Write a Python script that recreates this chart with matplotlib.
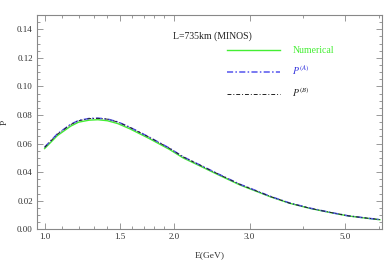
import matplotlib
matplotlib.use("Agg")
import matplotlib.pyplot as plt
from matplotlib.ticker import FixedLocator, FixedFormatter, NullFormatter

plt.rcParams['font.family'] = ['Liberation Serif', 'DejaVu Serif']
plt.rcParams['mathtext.fontset'] = 'stix'

energy = [1.00, 1.07, 1.15, 1.20, 1.27, 1.33, 1.40, 1.48, 1.58, 1.75, 1.95, 2.10,
          2.30, 2.55, 2.85, 3.17, 3.35, 3.72, 4.15, 4.61, 5.10, 5.60, 6.03]
p_numerical = [0.0565, 0.0655, 0.0722, 0.0750, 0.0764, 0.0767, 0.0760, 0.0740, 0.0703,
               0.0636, 0.0560, 0.0500, 0.0443, 0.0378, 0.0310, 0.0256, 0.0228, 0.0182,
               0.0146, 0.0118, 0.0093, 0.0078, 0.0067]
p_a = [0.0575, 0.0667, 0.0735, 0.0762, 0.0776, 0.0778, 0.0772, 0.0752, 0.0714,
       0.0646, 0.0569, 0.0508, 0.0450, 0.0384, 0.0315, 0.0260, 0.0231, 0.0184,
       0.0148, 0.0119, 0.0094, 0.0079, 0.0068]
p_b = [0.0573, 0.0665, 0.0733, 0.0760, 0.0775, 0.0777, 0.0771, 0.0751, 0.0713,
       0.0645, 0.0568, 0.0507, 0.0449, 0.0383, 0.0314, 0.0259, 0.0230, 0.0183,
       0.0147, 0.0119, 0.0094, 0.0079, 0.0068]

x_major = [1.0, 1.5, 2.0, 3.0, 5.0]
x_major_labels = ["1.0", "1.5", "2.0", "3.0", "5.0"]
x_minor = [1.1, 1.2, 1.3, 1.4, 1.6, 1.7, 1.8, 1.9, 4.0, 6.0]
y_major = [0.00, 0.02, 0.04, 0.06, 0.08, 0.10, 0.12, 0.14]
y_major_labels = ["0.00", "0.02", "0.04", "0.06", "0.08", "0.10", "0.12", "0.14"]

fig = plt.figure(figsize=(3.87, 2.62), dpi=100)
ax = fig.add_axes([0.0956, 0.1248, 0.8915, 0.8179])

ax.plot(energy, p_numerical, color='#44ee33', lw=1.0, ls='-', label='Numerical')
ax.plot(energy, p_a, color='#5555ee', lw=1.1, ls=(0, (4, 1.5, 1, 1.5)), label=r'$P^{(A)}$')
ax.plot(energy, p_b, color='#222222', lw=0.7, ls=(0, (4, 2, 1, 2)), label=r'$P^{(B)}$')

ax.set_xscale('log')
ax.set_xlim(0.96, 6.1)
ax.set_ylim(0, 0.15)

ax.xaxis.set_major_locator(FixedLocator(x_major))
ax.xaxis.set_major_formatter(FixedFormatter(x_major_labels))
ax.xaxis.set_minor_locator(FixedLocator(x_minor))
ax.xaxis.set_minor_formatter(NullFormatter())
ax.yaxis.set_major_locator(FixedLocator(y_major))
ax.yaxis.set_major_formatter(FixedFormatter(y_major_labels))
ax.yaxis.set_minor_locator(FixedLocator([i * 0.005 for i in range(31)]))

frame_color = '#888888'
for s in ax.spines.values():
    s.set_color(frame_color)
    s.set_linewidth(0.8)
ax.tick_params(which='both', direction='in', top=True, right=True,
               color=frame_color, labelsize=6.5, labelcolor='#333333', width=0.6)
ax.tick_params(which='major', length=4, pad=3)
ax.tick_params(which='minor', length=2)

ax.set_xlabel('E(GeV)', fontsize=6.8, color='#333333', labelpad=7)
ax.set_ylabel('P', fontsize=6.8, color='#333333', labelpad=6)

ax.text(0.394, 0.9, 'L=735km (MINOS)', transform=ax.transAxes, fontsize=7,
        color='#222222', va='center', ha='left')

leg = ax.legend(loc='upper left', bbox_to_anchor=(0.532, 0.885), frameon=False,
                fontsize=7, handlelength=5.4, handletextpad=1.3, labelspacing=0.85,
                labelcolor=['#44ee33', '#3333dd', '#222222'], borderpad=0.2)

fig.savefig('out.png', dpi=100)
